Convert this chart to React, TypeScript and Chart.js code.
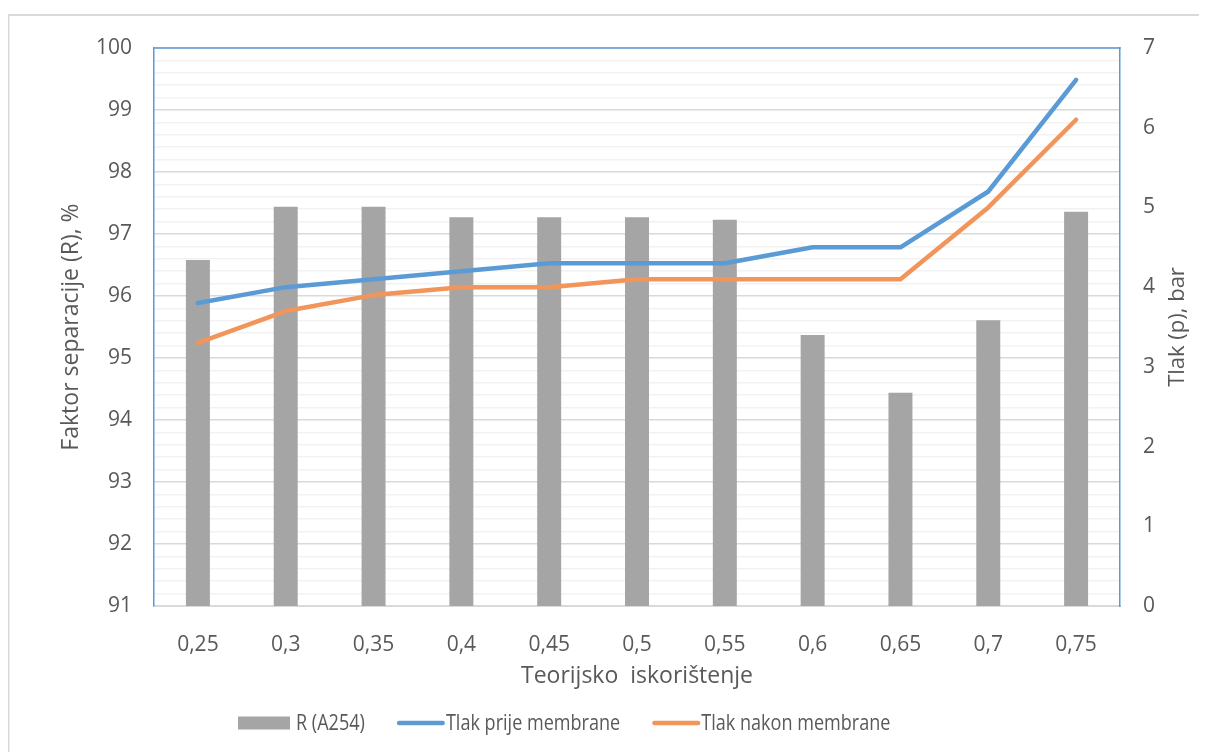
import React, { useEffect, useRef } from "react";
import { Chart, registerables } from "chart.js";

Chart.register(...registerables);

// ---- data ----
const categories = ["0,25", "0,3", "0,35", "0,4", "0,45", "0,5", "0,55", "0,6", "0,65", "0,7", "0,75"];
const separationR = [96.58, 97.44, 97.44, 97.27, 97.27, 97.27, 97.23, 95.37, 94.44, 95.61, 97.36];
const pressureBefore = [3.8, 4.0, 4.1, 4.2, 4.3, 4.3, 4.3, 4.5, 4.5, 5.2, 6.6];
const pressureAfter = [3.3, 3.7, 3.9, 4.0, 4.0, 4.1, 4.1, 4.1, 4.1, 5.0, 6.1];

const seriesLabels = ["R (A254)", "Tlak prije membrane", "Tlak nakon membrane"];
const leftRange = [91, 100];
const rightRange = [0, 7];
const xTitle = "Teorijsko  iskorištenje";
const leftTitle = "Faktor separacije (R), %";
const rightTitle = "Tlak (p), bar";

// ---- styles ----
const FONT = '"Open Sans", "Noto Sans", sans-serif';
const TICK_SIZE = 21;
const TITLE_SIZE = 23;
const RIGHT_TITLE_SIZE = 22;
const LEGEND_SIZE = 21;
const LEGEND_CONDENSE = 0.86;
const TEXT = "#595959";
const BLUE = "#5B9BD5";
const ORANGE = "#F1955A";
const GRAY = "#A5A5A5";

const isInt = (v: number) => Math.abs(v - Math.round(v)) < 1e-6;

const decorPlugin = {
  id: "decor",
  afterDraw(chart: any) {
    const { ctx, chartArea } = chart;
    ctx.save();
    // outer frame (left and top edges visible)
    ctx.strokeStyle = "#d9d9d9";
    ctx.lineWidth = 2;
    ctx.beginPath();
    ctx.moveTo(0.5, chart.height + 2);
    ctx.lineTo(0.5, 7);
    ctx.lineTo(chart.width + 2, 7);
    ctx.stroke();

    // top plot border
    ctx.strokeStyle = BLUE;
    ctx.lineWidth = 1.5;
    ctx.beginPath();
    ctx.moveTo(chartArea.left - 0.75, chartArea.top);
    ctx.lineTo(chartArea.right + 0.75, chartArea.top);
    ctx.stroke();

    // right axis title (reads bottom-to-top)
    ctx.fillStyle = TEXT;
    ctx.font = `${RIGHT_TITLE_SIZE}px ${FONT}`;
    ctx.textAlign = "center";
    ctx.textBaseline = "middle";
    ctx.save();
    ctx.translate(1170, (chartArea.top + chartArea.bottom) / 2);
    ctx.rotate(-Math.PI / 2);
    ctx.fillText(rightTitle, 0, 0);
    ctx.restore();

    // legend
    const y = 715;
    let x = 230;
    ctx.font = `${LEGEND_SIZE}px ${FONT}`;
    ctx.textAlign = "left";
    chart.data.datasets.forEach((ds: any) => {
      if (ds.type === "bar") {
        ctx.fillStyle = ds.backgroundColor;
        ctx.fillRect(x, y - 6.5, 52, 13);
        x += 58;
      } else {
        ctx.strokeStyle = ds.borderColor;
        ctx.lineWidth = 4.5;
        ctx.lineCap = "round";
        ctx.beginPath();
        ctx.moveTo(x + 2.2, y);
        ctx.lineTo(x + 45.8, y);
        ctx.stroke();
        x += 49;
      }
      ctx.fillStyle = TEXT;
      const w = ctx.measureText(ds.label).width * LEGEND_CONDENSE;
      ctx.fillText(ds.label, x, y + 1, w);
      x += w + 32;
    });
    ctx.restore();
  },
};

export default function App() {
  const ref = useRef<HTMLCanvasElement | null>(null);

  useEffect(() => {
    document.documentElement.style.overflow = "hidden";
    document.body.style.overflow = "hidden";
    if (!ref.current) return;
    const chart = new Chart(ref.current, {
      type: "bar",
      data: {
        labels: categories,
        datasets: [
          {
            type: "bar",
            label: seriesLabels[0],
            data: separationR,
            backgroundColor: GRAY,
            yAxisID: "y",
            categoryPercentage: 1,
            barPercentage: 0.273,
            order: 2,
          },
          {
            type: "line",
            label: seriesLabels[1],
            data: pressureBefore,
            borderColor: BLUE,
            backgroundColor: BLUE,
            borderWidth: 4.5,
            borderCapStyle: "round",
            borderJoinStyle: "round",
            pointRadius: 0,
            tension: 0,
            yAxisID: "y1",
            order: 0,
          },
          {
            type: "line",
            label: seriesLabels[2],
            data: pressureAfter,
            borderColor: ORANGE,
            backgroundColor: ORANGE,
            borderWidth: 4.5,
            borderCapStyle: "round",
            borderJoinStyle: "round",
            pointRadius: 0,
            tension: 0,
            yAxisID: "y1",
            order: 1,
          },
        ] as any,
      },
      options: {
        responsive: false,
        animation: false,
        layout: { padding: { top: 40, left: 0, right: 0, bottom: 54 } },
        plugins: {
          legend: { display: false },
          tooltip: { enabled: false },
        },
        font: { family: FONT, size: TICK_SIZE },
        scales: {
          x: {
            grid: { display: false },
            border: { color: "#d9d9d9", width: 2 },
            ticks: { color: TEXT, font: { family: FONT, size: TICK_SIZE }, padding: 18, maxRotation: 0 },
            title: {
              display: true,
              text: xTitle,
              color: TEXT,
              font: { family: FONT, size: TITLE_SIZE },
              padding: { top: 0, bottom: 8 },
            },
            afterFit(scale: any) {
              scale.height = 92;
            },
          },
          y: {
            position: "left",
            min: leftRange[0],
            max: leftRange[1],
            border: { color: BLUE, width: 1.5 },
            grid: {
              drawTicks: false,
              lineWidth: 1.5,
              color: (c: any) => (c.tick && isInt(c.tick.value) ? "#d9d9d9" : "#f2f2f2"),
            },
            ticks: {
              stepSize: 0.2,
              autoSkip: false,
              color: TEXT,
              padding: 22,
              font: { family: FONT, size: TICK_SIZE },
              callback: (v: any) => (isInt(Number(v)) ? String(Math.round(Number(v))) : ""),
            },
            title: {
              display: true,
              text: leftTitle,
              color: TEXT,
              font: { family: FONT, size: TITLE_SIZE },
              padding: { top: 50, bottom: 0 },
            },
            afterFit(scale: any) {
              scale.width = 146;
            },
          },
          y1: {
            position: "right",
            min: rightRange[0],
            max: rightRange[1],
            border: { color: BLUE, width: 1.5 },
            grid: { display: false, drawTicks: false },
            ticks: {
              stepSize: 1,
              color: TEXT,
              padding: 23,
              font: { family: FONT, size: TICK_SIZE },
            },
            afterFit(scale: any) {
              scale.width = 87;
            },
          },
        },
      } as any,
      plugins: [decorPlugin],
    });
    return () => chart.destroy();
  }, []);

  return <canvas ref={ref} width={1199} height={744} style={{ display: "block" }} />;
}
